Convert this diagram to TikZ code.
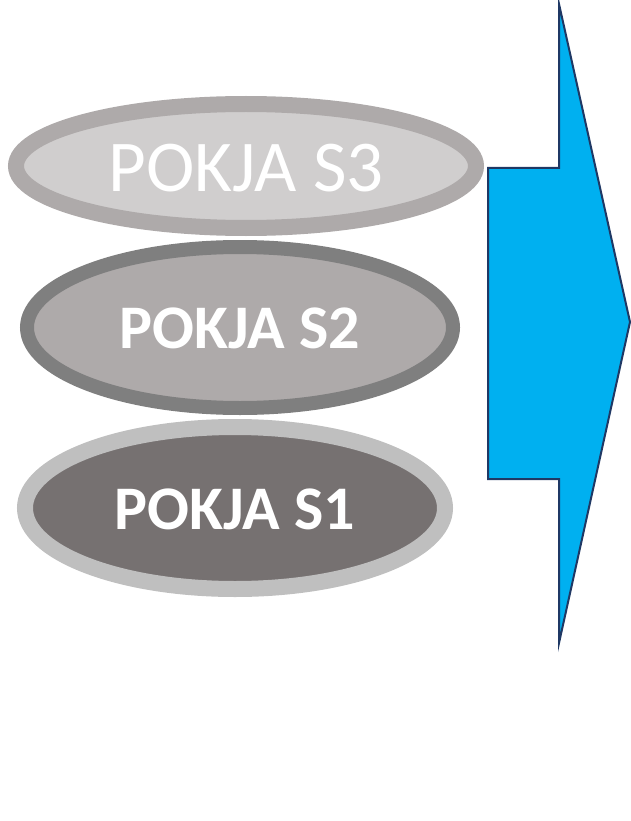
\documentclass[tikz,border=0pt]{standalone}
\usepackage{fontspec}
\setmainfont{Carlito}
\usetikzlibrary{shapes.geometric}
\definecolor{sthreefill}{HTML}{D0CECE}
\definecolor{sthreeline}{HTML}{AEAAAA}
\definecolor{stwofill}{HTML}{AEAAAA}
\definecolor{stwoline}{HTML}{7F7F7F}
\definecolor{sonefill}{HTML}{767171}
\definecolor{soneline}{HTML}{BFBFBF}
\definecolor{arrowfill}{HTML}{00B0F0}
\definecolor{arrowline}{HTML}{1F3864}
\begin{document}
\begin{tikzpicture}[x=1pt,y=-1pt,
  pokja/.style={ellipse, inner sep=0pt, text=white, align=center},
  bigarrow/.style={fill=arrowfill, draw=arrowline, line width=2pt, line join=miter}]
\useasboundingbox (0,0) rectangle (631,821);
\node[pokja, fill=sthreefill, draw=sthreeline, line width=16pt,
  minimum width=460pt, minimum height=124pt] (s3) at (246,166) {};
\node[text=white, font=\fontsize{73}{80}\selectfont] (t3) at (246,168) {POKJA S3};
\node[pokja, fill=stwofill, draw=stwoline, line width=14pt,
  minimum width=426pt, minimum height=161pt] (s2) at (240,327.5) {};
\node[text=white, font=\fontsize{62}{70}\selectfont\bfseries] (t2) at (240,328) {POKJA S2};
\node[pokja, fill=sonefill, draw=soneline, line width=16pt,
  minimum width=420pt, minimum height=162pt] (s1) at (235,508) {};
\node[text=white, font=\fontsize{62}{70}\selectfont\bfseries] (t1) at (235,509) {POKJA S1};
\coordinate (a1) at (488,168);
\coordinate (a2) at (559,168);
\coordinate (a3) at (559,4);
\coordinate (a4) at (630,322);
\coordinate (a5) at (559,643);
\coordinate (a6) at (559,479);
\coordinate (a7) at (488,479);
\draw[bigarrow] (a1) -- (a2) -- (a3) -- (a4) -- (a5) -- (a6) -- (a7) -- cycle;
\end{tikzpicture}
\end{document}
